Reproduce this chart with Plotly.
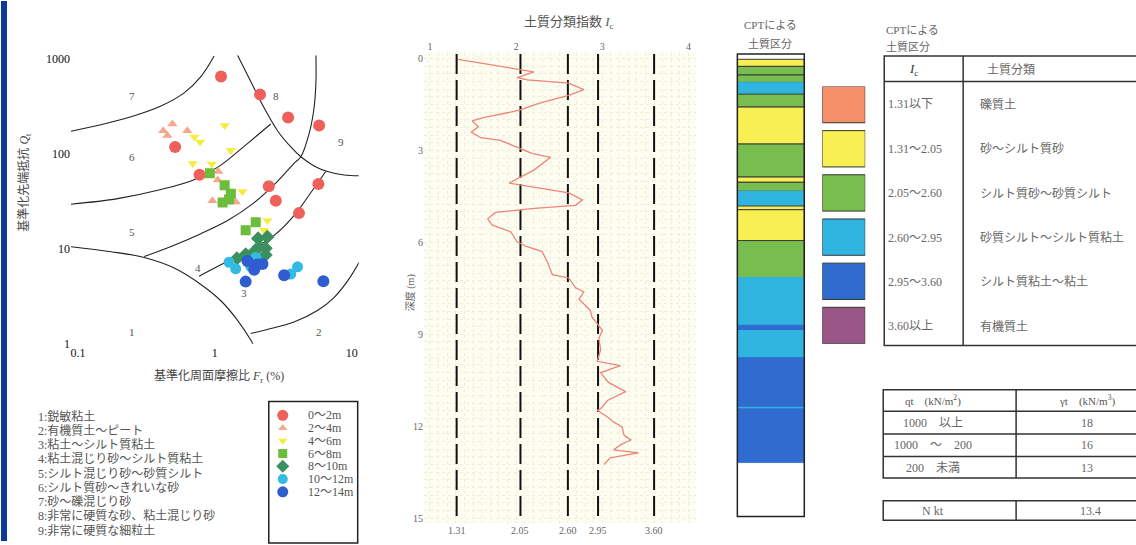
import math
import plotly.graph_objects as go

W, H = 1136, 545
SERIF = "Liberation Serif, Noto Sans CJK JP"

# ---------------- data ----------------
depth_labels = ["0～2m", "2～4m", "4～6m", "6～8m", "8～10m", "10～12m", "12～14m"]
F_0_2 = [1.11, 2.14, 3.43, 5.78, 0.513, 0.773, 2.48, 5.71, 2.79, 4.12]
Q_0_2 = [650, 420, 241, 198, 118, 60, 45.5, 48, 32, 23.7]
F_2_4 = [0.49, 0.42, 0.63, 0.45, 1.06, 1.05, 0.96, 1.42]
Q_2_4 = [206, 175, 175, 156, 65, 53, 32, 31]
F_4_6 = [1.18, 0.71, 0.78, 1.31, 0.69, 0.95, 1.59, 2.42, 2.29]
Q_4_6 = [198, 150, 133, 109, 79, 78, 40, 19.8, 15.6]
F_6_8 = [0.92, 1.18, 1.31, 1.14, 1.27, 1.68, 1.99]
Q_6_8 = [62.5, 46.6, 38, 30.6, 33, 15.6, 19]
F_8_10 = [2.07, 2.42, 2.10, 2.35, 2.35, 1.94, 1.68, 1.45]
Q_8_10 = [12.8, 13.3, 10.5, 10.1, 8.6, 9.3, 8.7, 7.9]
F_10_12 = [1.27, 1.42, 1.99, 1.83, 3.59, 4.02]
Q_10_12 = [7.2, 6.15, 8.1, 6.5, 5.4, 6.45]
F_12_14 = [1.73, 2.05, 1.94, 2.23, 1.68, 3.21, 6.21]
Q_12_14 = [7.4, 6.8, 6.0, 6.9, 4.5, 5.25, 4.55]

# zone boundary curves of the Robertson chart (F, Q)
B67_F = [0.089, 0.147, 0.258, 0.404, 0.597, 0.791, 0.989]
B67_Q = [173, 202, 251, 318, 438, 650, 1070]
B56_F = [0.089, 0.195, 0.404, 0.706, 1.107, 1.73, 2.56]
B56_Q = [29.4, 33.7, 42, 53.3, 76, 128, 206]
B1_F = [0.089, 0.174, 0.305, 0.505, 0.791, 1.107, 1.466, 1.83, 1.94]
B1_Q = [10.5, 9.3, 8.07, 6.25, 4.2, 2.83, 1.76, 1.09, 0.93]
B45_F = [0.305, 0.505, 0.791, 1.24, 1.94, 2.87, 3.79, 4.25, 4.88, 5.31, 5.48, 5.48]
B45_Q = [8.27, 10.9, 14.4, 19.8, 30.6, 51.2, 79.4, 93, 162, 305, 577, 1090]
B34_F = [0.767, 1.107, 1.73, 2.71, 3.79, 5.02, 6.46]
B34_Q = [5.13, 6.77, 9.3, 13.8, 22.3, 38.8, 65]
B89_F = [1.466, 1.83, 2.29, 2.87, 3.59, 4.25, 5.31, 6.65, 8.8, 11.5]
B89_Q = [1090, 577, 305, 175, 118, 93, 74.5, 65, 59.7, 58.6]
B2_F = [11.5, 9.31, 7.43, 5.62, 3.79, 2.42, 1.83]
B2_Q = [7.44, 4.55, 3.06, 2.23, 1.69, 1.41, 1.28]
zone_ids = ["1", "2", "3", "4", "5", "6", "7", "8", "9"]
zone_F = [0.25, 5.74, 1.63, 0.75, 0.25, 0.25, 0.25, 2.79, 8.32]
zone_Q = [1.33, 1.33, 3.45, 6.25, 15.1, 92.9, 404, 404, 133]
zone_names = ["1:鋭敏粘土", "2:有機質土～ピート", "3:粘土～シルト質粘土",
              "4:粘土混じり砂～シルト質粘土", "5:シルト混じり砂～砂質シルト",
              "6:シルト質砂～きれいな砂", "7:砂～礫混じり砂",
              "8:非常に硬質な砂、粘土混じり砂", "9:非常に硬質な細粒土"]

# Ic profile
ic_depth = [0.02, 0.43, 0.62, 0.69, 0.80, 1.01, 1.20, 1.44, 1.69, 1.92, 2.03, 2.22, 2.40,
            2.58, 2.67, 2.88, 3.10, 3.22, 3.63, 4.06, 4.17, 4.38, 4.61, 4.79, 4.89, 5.02,
            5.23, 5.43, 5.66, 5.98, 6.14, 6.30, 6.62, 6.94, 7.05, 7.16, 7.48, 7.61, 7.85,
            8.22, 8.44, 8.65, 8.87, 9.13, 9.51, 9.88, 10.02, 10.25, 10.57, 10.87, 11.16,
            11.43, 11.48, 11.70, 11.86, 12.02, 12.29, 12.45, 12.61, 12.77, 12.87, 13.03, 13.25]
ic_value = [1.325, 2.205, 2.013, 2.13, 2.61, 2.785, 2.61, 2.28, 2.03, 1.63, 1.49, 1.56, 1.48,
            1.59, 1.82, 2.01, 2.19, 2.40, 2.21, 1.92, 2.15, 2.61, 2.77, 2.69, 2.21, 1.76,
            1.67, 1.72, 1.94, 2.01, 2.13, 2.30, 2.36, 2.40, 2.42, 2.61, 2.69, 2.785, 2.73,
            2.86, 2.88, 2.94, 3.00, 2.96, 2.98, 2.94, 3.21, 2.98, 3.07, 3.27, 3.06,
            2.98, 2.94, 3.06, 3.13, 3.23, 3.25, 3.33, 3.21, 3.13, 3.42, 3.09, 3.02]
ic_bounds = [1.31, 2.05, 2.60, 2.95, 3.60]
ic_bound_labels = ["1.31", "2.05", "2.60", "2.95", "3.60"]
depth_ticks = [0, 3, 6, 9, 12, 15]
ic_ticks = [1, 2, 3, 4]

# CPT soil column (top depth, bottom depth, class)
layer_top = [0.00, 0.17, 0.40, 0.68, 0.92, 1.30, 1.72, 2.92, 3.99, 4.16, 4.45, 4.93, 5.05,
             6.05, 7.25, 8.80, 8.97, 9.85, 11.46, 11.51, 13.28]
layer_bottom = [0.17, 0.40, 0.68, 0.92, 1.30, 1.72, 2.92, 3.99, 4.16, 4.45, 4.93, 5.05, 6.05,
                7.25, 8.80, 8.97, 9.85, 11.46, 11.51, 13.28, 15.00]
layer_class = ["none", "sand", "silty", "silty", "sandysilt", "silty", "sand", "silty", "sand",
               "silty", "sandysilt", "sand", "sand", "silty", "sandysilt", "clay", "sandysilt",
               "clay", "sandysilt", "clay", "none"]

class_keys = ["gravel", "sand", "silty", "sandysilt", "clay", "organic"]
class_ranges = ["1.31以下", "1.31～2.05", "2.05～2.60", "2.60～2.95", "2.95～3.60", "3.60以上"]
class_names = ["礫質土", "砂～シルト質砂", "シルト質砂～砂質シルト",
               "砂質シルト～シルト質粘土", "シルト質粘土～粘土", "有機質土"]

qt_ranges = ["1000　以上", "1000　～　200", "200　未満"]
gamma_t = ["18", "16", "13"]
nkt_value = "13.4"

# ---------------- styles ----------------
class_colors = {"gravel": "#f5906a", "sand": "#f8ef52", "silty": "#78be4e",
                "sandysilt": "#30b4e0", "clay": "#306cd0", "organic": "#9a5687",
                "none": "#ffffff"}
series = [
    (F_0_2, Q_0_2, "circle", "#f0605a", 12),
    (F_2_4, Q_2_4, "triangle-up", "#f5a88e", 9),
    (F_4_6, Q_4_6, "triangle-down", "#f3ee3e", 9),
    (F_6_8, Q_6_8, "square", "#6cbd3a", 10),
    (F_8_10, Q_8_10, "diamond", "#3c8f5e", 11),
    (F_10_12, Q_10_12, "circle", "#33bbe3", 11),
    (F_12_14, Q_12_14, "circle", "#2f5ccf", 12),
]

# middle axis geometry (pixels)
X2_PX = (423.3, 695.5)
X2_RANGE = (0.9305, 4.0846)


def px(x):
    return x / W


def py(y):
    return 1 - y / H


fig = go.Figure()
ann = []
shapes = []


def text(x, y, s, size=12, color="#555", xa="center", ya="middle", fam=SERIF, angle=0):
    ann.append(dict(x=px(x), y=py(y), xref="paper", yref="paper", text=s, showarrow=False,
                    font=dict(size=size, color=color, family=fam), xanchor=xa, yanchor=ya,
                    textangle=angle))


def line(x0, y0, x1, y1, w=1.5, c="#333"):
    shapes.append(dict(type="line", xref="paper", yref="paper", x0=px(x0), y0=py(y0),
                       x1=px(x1), y1=py(y1), line=dict(color=c, width=w)))


def rect(x0, y0, x1, y1, w=1.5, c="#333", fill="rgba(0,0,0,0)"):
    shapes.append(dict(type="rect", xref="paper", yref="paper", x0=px(x0), y0=py(y0),
                       x1=px(x1), y1=py(y1), line=dict(color=c, width=w), fillcolor=fill))


# ---- Robertson chart ----
for bf, bq in [(B67_F, B67_Q), (B56_F, B56_Q), (B1_F, B1_Q), (B45_F, B45_Q),
               (B34_F, B34_Q), (B89_F, B89_Q), (B2_F, B2_Q)]:
    fig.add_trace(go.Scatter(x=bf, y=bq, mode="lines", line=dict(color="#222", width=1.1, shape="spline"),
                             hoverinfo="skip", showlegend=False, xaxis="x", yaxis="y"))
for fx, qy, sym, col, sz in series:
    fig.add_trace(go.Scatter(x=fx, y=qy, mode="markers", marker=dict(symbol=sym, color=col, size=sz),
                             showlegend=False, xaxis="x", yaxis="y"))
for zid, zf, zq in zip(zone_ids, zone_F, zone_Q):
    ann.append(dict(x=math.log10(zf), y=math.log10(zq), xref="x", yref="y", text=zid,
                    showarrow=False, font=dict(size=11, color="#555", family=SERIF)))

# ---- depth legend (own helper axis) ----
for i, (fx, qy, sym, col, sz) in enumerate(series):
    fig.add_trace(go.Scatter(x=[14], y=[14 + 13 * i], mode="markers",
                             marker=dict(symbol=sym, color=col, size=sz - 1),
                             showlegend=False, xaxis="x5", yaxis="y5"))
    text(305, 406 + 14 + 13 * i, depth_labels[i], size=12, color="#555", xa="left")

# ---- Ic profile ----
bx, by = [], []
for v in ic_bounds:
    bx += [v, v, None]
    by += [-0.15, 15.05, None]
fig.add_trace(go.Scatter(x=bx, y=by, mode="lines", line=dict(color="#111", width=2, dash="20px,6px"),
                         showlegend=False, hoverinfo="skip", xaxis="x2", yaxis="y2"))
fig.add_trace(go.Scatter(x=ic_value, y=ic_depth, mode="lines", line=dict(color="#f0837a", width=1.3),
                         showlegend=False, xaxis="x2", yaxis="y2"))
for v, lab in zip(ic_bounds, ic_bound_labels):
    xpix = X2_PX[0] + (v - X2_RANGE[0]) / (X2_RANGE[1] - X2_RANGE[0]) * (X2_PX[1] - X2_PX[0])
    text(xpix, 537, lab, size=10, color="#666")

# ---- CPT column ----
thick = [b - t for t, b in zip(layer_top, layer_bottom)]
fill = [class_colors[c] for c in layer_class]
edge = ["#3a3a3a" if c in ("sand", "silty") else class_colors[c] for c in layer_class]
fig.add_trace(go.Bar(x=[0] * len(thick), y=thick, base=layer_top, width=1,
                     marker=dict(color=fill, line=dict(color=edge, width=1)),
                     showlegend=False, xaxis="x3", yaxis="y3"))

# ---- class swatches ----
fig.add_trace(go.Bar(x=[0] * len(class_keys), y=[0.822] * len(class_keys),
                     base=list(range(len(class_keys))), width=1,
                     marker=dict(color=[class_colors[k] for k in class_keys],
                                 line=dict(color="#333", width=1)),
                     showlegend=False, xaxis="x4", yaxis="y4"))

# ---- text / decoration ----
rect(0, -2, 6, 548, w=0, c="#0b3a9b", fill="#0b3a9b")
text(218, 380, "基準化周面摩擦比 <i>F</i><sub>r</sub> (%)", size=12, color="#444")
text(24, 182, "基準化先端抵抗 <i>Q</i><sub>t</sub>", size=12, color="#444", angle=-90)
for i, s in enumerate(zone_names):
    text(35, 421 + 14.5 * i, s, size=12, color="#555", xa="left")
rect(268, 406, 357, 550, w=1.5, c="#222")
text(568, 20, "土質分類指数 <i>I</i><sub>c</sub>", size=13, color="#555")
text(410, 295, "深度 (m)", size=10, color="#666", angle=-90)
text(770, 22, "CPTによる", size=11, color="#666")
text(770, 41, "土質区分", size=11, color="#666")
text(884, 27, "CPTによる", size=11, color="#666", xa="left")
text(884, 44, "土質区分", size=11, color="#666", xa="left")
# Ic table
rect(884, 54, 1140, 349)
line(884, 80, 1140, 80)
line(963, 54, 963, 349)
text(913, 68, "<i>I</i><sub>c</sub>", size=13, color="#333")
text(1011, 68, "土質分類", size=12, color="#666")
for i in range(len(class_ranges)):
    yy = 103 + 45.3 * i
    text(886, yy, class_ranges[i], size=12, color="#666", xa="left")
    text(978, yy, class_names[i], size=12, color="#666", xa="left")
# qt table
rect(883, 394, 1140, 484)
for yy in (416, 439, 462):
    line(883, yy, 1140, yy)
line(1016, 394, 1016, 484)
text(933, 405, "qt　(kN/m<sup>2</sup>)", size=11, color="#555")
text(1087, 405, "γt　(kN/m<sup>3</sup>)", size=11, color="#555")
for i in range(len(qt_ranges)):
    yy = 427.5 + 23 * i
    text(933, yy, qt_ranges[i], size=12, color="#666")
    text(1087, yy, gamma_t[i], size=12, color="#666")
rect(883, 507, 1140, 527)
line(1016, 507, 1016, 527)
text(933, 517, "N kt", size=12, color="#666")
text(1090, 517, nkt_value, size=12, color="#666")

shapes.append(dict(type="rect", xref="x2 domain", yref="y2 domain", x0=0, y0=0, x1=1, y1=1,
                   fillcolor="#fdfdf1", line=dict(width=0), layer="below"))
shapes.append(dict(type="rect", xref="x3 domain", yref="y3 domain", x0=0, y0=0, x1=1, y1=1,
                   line=dict(color="#222", width=1.5)))

grid = "#eef0d6"
noax = dict(visible=False, fixedrange=True)
fig.update_layout(
    width=W, height=H, margin=dict(l=0, r=0, t=0, b=0),
    paper_bgcolor="white", plot_bgcolor="rgba(0,0,0,0)", barmode="overlay", showlegend=False,
    xaxis=dict(type="log", domain=[px(70), px(358)], range=[-1.051, 1.051], anchor="y",
               tickvals=[0.1, 1, 10], ticktext=["0.1", "1", "10"], showgrid=False, zeroline=False,
               showline=False, ticks="", tickfont=dict(size=12, color="#111", family=SERIF)),
    yaxis=dict(type="log", domain=[py(347), py(53.3)], range=[0, 3.037], anchor="x",
               tickvals=[1, 10, 100, 1000], ticktext=["1", "10", "100", "1000"], showgrid=False,
               zeroline=False, showline=False, ticks="", tickfont=dict(size=12, color="#111", family=SERIF)),
    xaxis2=dict(domain=[px(X2_PX[0]), px(X2_PX[1])], range=list(X2_RANGE), anchor="y2", side="top",
                tickvals=ic_ticks, ticktext=[str(t) for t in ic_ticks], showgrid=True, gridcolor=grid,
                griddash="dot", zeroline=False, showline=False, ticks="",
                tickfont=dict(size=10, color="#666", family=SERIF),
                minor=dict(dtick=0.1, tick0=0, showgrid=True, gridcolor=grid, griddash="dot")),
    yaxis2=dict(domain=[py(529.4), py(50.5)], range=[15.15, -0.199], anchor="x2",
                tickvals=depth_ticks, ticktext=[str(t) for t in depth_ticks], showgrid=True,
                gridcolor=grid, griddash="dot", zeroline=False, showline=False, ticks="",
                tickfont=dict(size=10, color="#666", family=SERIF),
                minor=dict(dtick=0.25, tick0=0, showgrid=True, gridcolor=grid, griddash="dot")),
    xaxis3=dict(domain=[px(737), px(804)], range=[-0.5, 0.5], anchor="y3", **noax),
    yaxis3=dict(domain=[py(523), py(52)], range=[15, 0], anchor="x3", **noax),
    xaxis4=dict(domain=[px(822), px(865)], range=[-0.5, 0.5], anchor="y4", **noax),
    yaxis4=dict(domain=[py(347), py(85)], range=[5.822, 0], anchor="x4", **noax),
    xaxis5=dict(domain=[px(268), px(357)], range=[0, 89], anchor="y5", **noax),
    yaxis5=dict(domain=[py(545), py(406)], range=[139, 0], anchor="x5", **noax),
    annotations=ann, shapes=shapes,
)

fig.write_html("out.html", config={"displayModeBar": False},
               post_script="document.body.style.margin='0';document.body.style.overflow='hidden';")
